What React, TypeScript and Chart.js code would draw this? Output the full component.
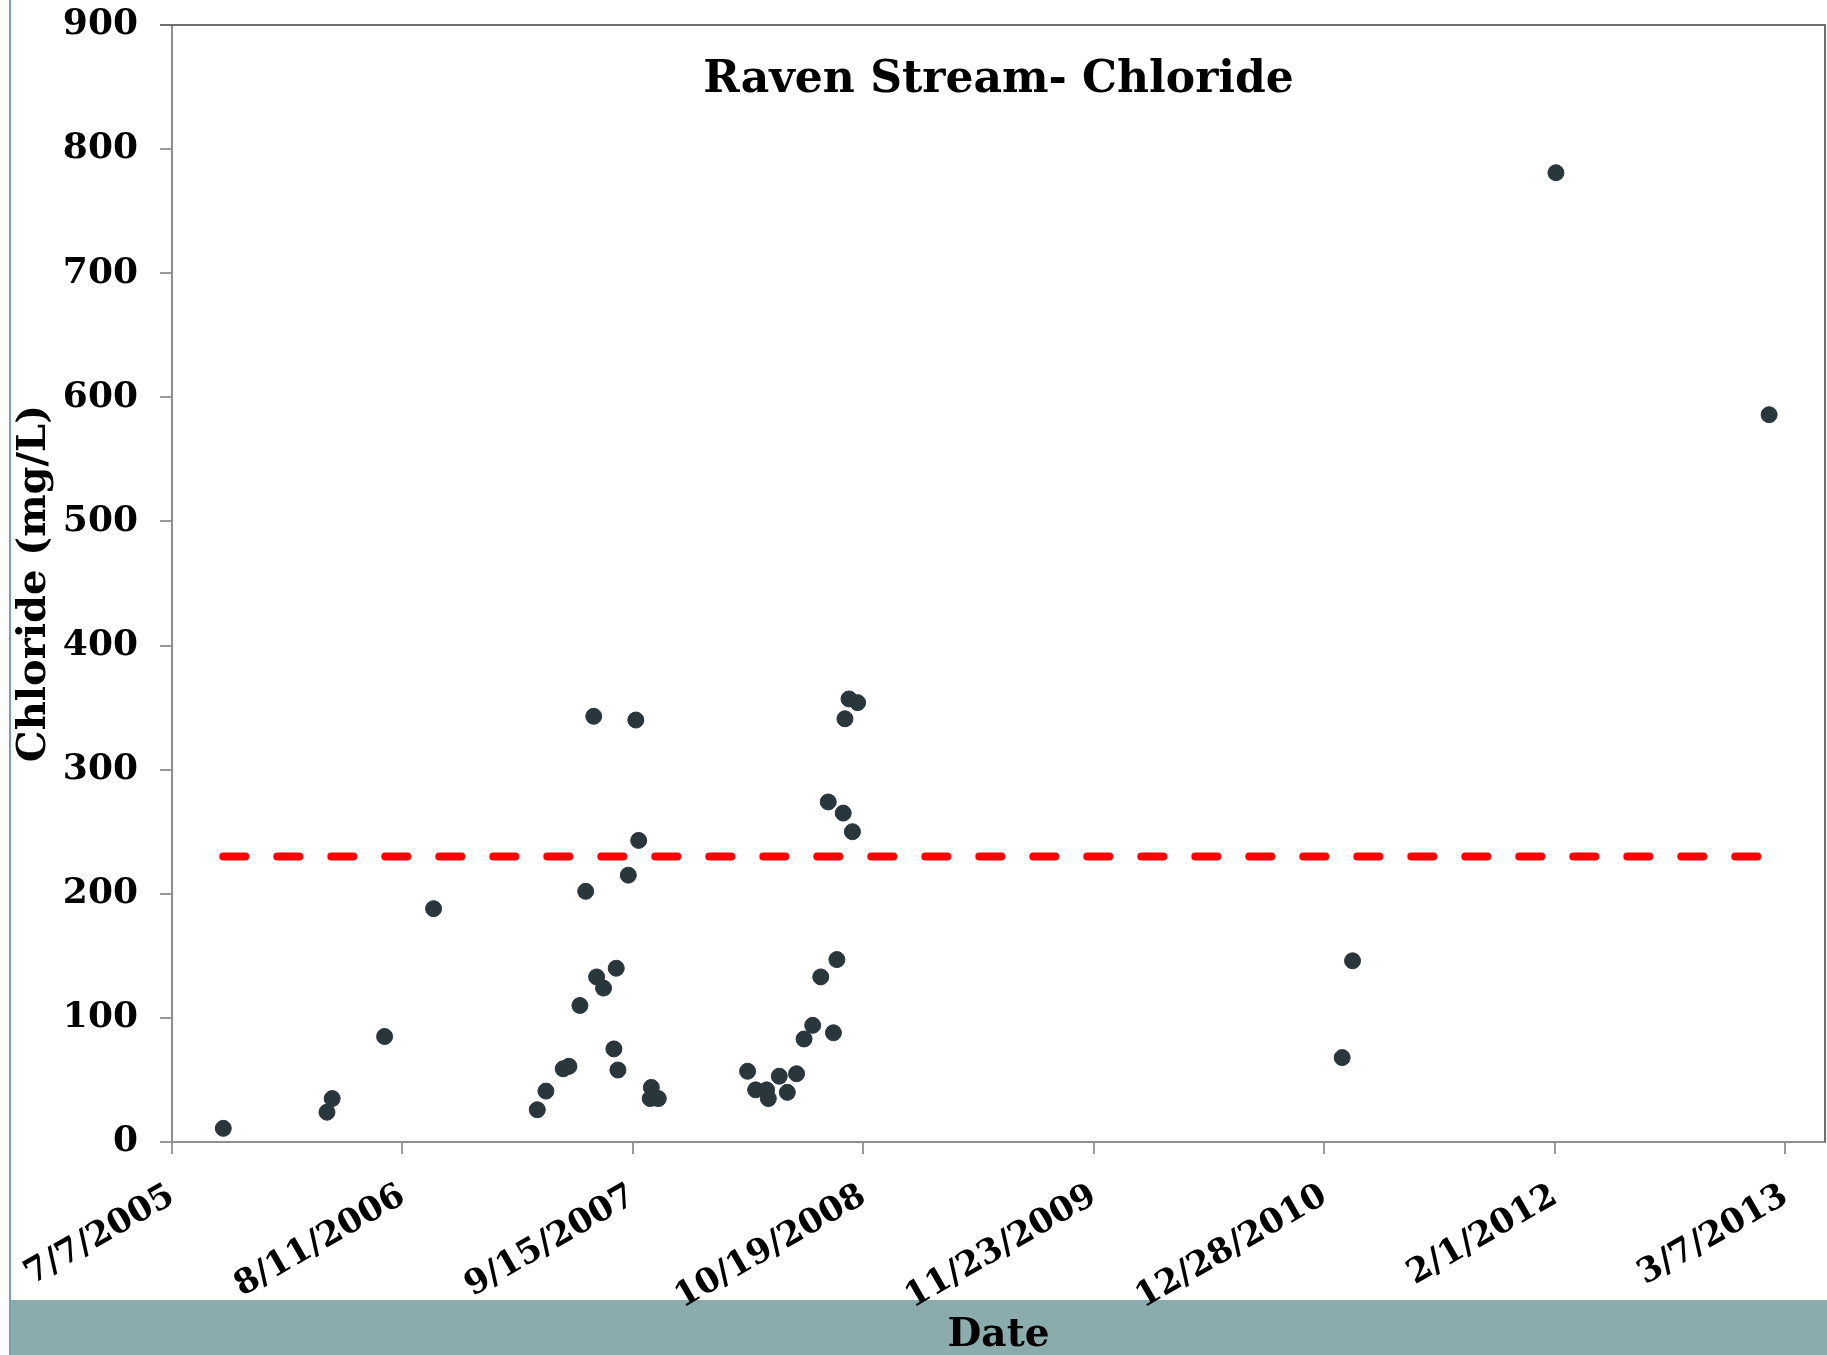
import React, { useEffect, useRef } from "react";
import { Chart, registerables } from "chart.js";

Chart.register(...registerables);

// ---- data ----
const sampleDates: string[] = [
  "2005-10-04", "2006-04-02", "2006-04-11", "2006-07-11", "2006-10-04",
  "2007-04-02", "2007-04-17", "2007-05-17", "2007-05-27", "2007-06-15",
  "2007-06-25", "2007-07-09", "2007-07-14", "2007-07-26", "2007-08-13",
  "2007-08-17", "2007-08-20", "2007-09-07", "2007-09-20", "2007-09-25",
  "2007-10-15", "2007-10-17", "2007-10-29",
  "2008-04-01", "2008-04-15", "2008-05-04", "2008-05-07", "2008-05-26",
  "2008-06-09", "2008-06-25", "2008-07-08", "2008-07-23", "2008-08-06",
  "2008-08-19", "2008-08-28", "2008-09-03", "2008-09-14", "2008-09-17",
  "2008-09-24", "2008-09-30", "2008-10-09",
  "2011-01-28", "2011-02-15", "2012-02-03", "2013-02-07",
];
const chlorideValues: number[] = [
  11, 24, 35, 85, 188,
  26, 41, 59, 61, 110,
  202, 343, 133, 124, 75,
  140, 58, 215, 340, 243,
  35, 44, 35,
  57, 42, 42, 35, 53,
  40, 55, 83, 94, 133,
  274, 88, 147, 265, 341,
  357, 250, 354,
  68, 146, 781, 586,
];
const tickDates: string[] = [
  "2005-07-07", "2006-08-11", "2007-09-15", "2008-10-19",
  "2009-11-23", "2010-12-28", "2012-02-01", "2013-03-07",
];
const axisStartDate = "2005-07-07";
const axisEndDate = "2013-05-15";
const thresholdDates: string[] = ["2005-10-04", "2013-02-07"];
const thresholdValue = 230;
const yTickValues: number[] = [0, 100, 200, 300, 400, 500, 600, 700, 800, 900];

const TITLE = "Raven Stream- Chloride";
const FONT = "'DejaVu Serif', 'Liberation Serif', serif";
const DAY = 86400000;

const toDay = (s: string) => {
  const [y, m, d] = s.split("-").map(Number);
  return Date.UTC(y, m - 1, d) / DAY;
};
const fmt = (v: number) => {
  const dt = new Date(Math.round(v) * DAY);
  return `${dt.getUTCMonth() + 1}/${dt.getUTCDate()}/${dt.getUTCFullYear()}`;
};

const framePlugin = {
  id: "frameAndTitle",
  beforeDatasetsDraw(chart: any) {
    const { ctx, chartArea } = chart;
    ctx.save();
    ctx.strokeStyle = "#6e6e6e";
    ctx.lineWidth = 2;
    ctx.beginPath();
    ctx.moveTo(chartArea.left - 12, chartArea.top);
    ctx.lineTo(chartArea.right, chartArea.top);
    ctx.lineTo(chartArea.right, chartArea.bottom);
    ctx.stroke();
    ctx.restore();
  },
  afterDraw(chart: any) {
    const { ctx, chartArea } = chart;
    ctx.save();
    ctx.fillStyle = "#000";
    ctx.font = `bold 44px ${FONT}`;
    ctx.textAlign = "center";
    ctx.textBaseline = "alphabetic";
    ctx.fillText(TITLE, (chartArea.left + chartArea.right) / 2, 92);
    ctx.restore();
  },
};

export default function App() {
  const ref = useRef<HTMLCanvasElement | null>(null);

  useEffect(() => {
    document.body.style.margin = "0";
    const canvas = ref.current;
    if (!canvas) return;
    const points = sampleDates.map((d, i) => ({ x: toDay(d), y: chlorideValues[i] }));
    const threshold = thresholdDates.map((d) => ({ x: toDay(d), y: thresholdValue }));
    const xTickFont = { family: FONT, size: 34, weight: "bold" as const };
    const yTickFont = { family: FONT, size: 36, weight: "bold" as const };
    const axisTitleFont = { family: FONT, size: 40, weight: "bold" as const };
    const xTitleFont = { family: FONT, size: 39, weight: "bold" as const };

    const chart = new Chart(canvas, {
      type: "scatter",
      data: {
        datasets: [
          {
            type: "scatter",
            label: "Chloride",
            data: points,
            pointRadius: 8,
            pointBorderWidth: 1,
            pointBackgroundColor: "#29363c",
            pointBorderColor: "#29363c",
            order: 1,
          } as any,
          {
            type: "line",
            label: "Standard",
            data: threshold,
            borderColor: "#ff0000",
            borderWidth: 8,
            borderDash: [22, 32],
            borderCapStyle: "round",
            pointRadius: 0,
            fill: false,
            order: 2,
          } as any,
        ],
      },
      options: {
        animation: false,
        responsive: false,
        maintainAspectRatio: false,
        layout: { autoPadding: false, padding: { top: 25, right: 2, left: 0, bottom: 0 } },
        plugins: {
          legend: { display: false },
          tooltip: { enabled: false },
          title: { display: false },
        },
        scales: {
          x: {
            type: "linear",
            min: toDay(axisStartDate),
            max: toDay(axisEndDate),
            afterBuildTicks: (s: any) => {
              s.ticks = tickDates.map((d) => ({ value: toDay(d) }));
            },
            afterFit: (s: any) => {
              s.height = 213;
              s.paddingLeft = 0;
              s.paddingRight = 0;
            },
            grid: { drawOnChartArea: false, drawTicks: true, tickLength: 12, color: "#9a9a9a", lineWidth: 2 },
            border: { display: true, color: "#8f8f8f", width: 2 },
            ticks: {
              autoSkip: false,
              minRotation: 30,
              maxRotation: 30,
              padding: 22,
              color: "#000",
              font: xTickFont,
              callback: (v: any) => fmt(Number(v)),
            },
            title: {
              display: true,
              text: "Date",
              color: "#000",
              font: xTitleFont,
              padding: { top: 0, bottom: -4 },
            },
          },
          y: {
            type: "linear",
            min: 0,
            max: 900,
            afterBuildTicks: (s: any) => {
              s.ticks = yTickValues.map((v) => ({ value: v }));
            },
            afterFit: (s: any) => {
              s.width = 172;
              s.paddingTop = 0;
              s.paddingBottom = 0;
            },
            grid: { drawOnChartArea: false, drawTicks: true, tickLength: 12, color: "#9a9a9a", lineWidth: 2 },
            border: { display: true, color: "#8f8f8f", width: 2 },
            ticks: {
              padding: 22,
              color: "#000",
              font: yTickFont,
            },
            title: {
              display: true,
              text: "Chloride (mg/L)",
              color: "#000",
              font: axisTitleFont,
              padding: { top: 11, bottom: 0 },
            },
          },
        },
      } as any,
      plugins: [framePlugin],
    });
    return () => chart.destroy();
  }, []);

  return (
    <div style={{ position: "relative", width: 1827, height: 1355, background: "#ffffff", overflow: "hidden" }}>
      <div style={{ position: "absolute", left: 10, top: 1300, width: 1817, height: 55, background: "#8aacac" }} />
      <div style={{ position: "absolute", left: 9, top: 0, width: 2, height: 1355, background: "#7c9fa2" }} />
      <canvas ref={ref} width={1827} height={1355} style={{ position: "absolute", left: 0, top: 0, display: "block" }} />
    </div>
  );
}
